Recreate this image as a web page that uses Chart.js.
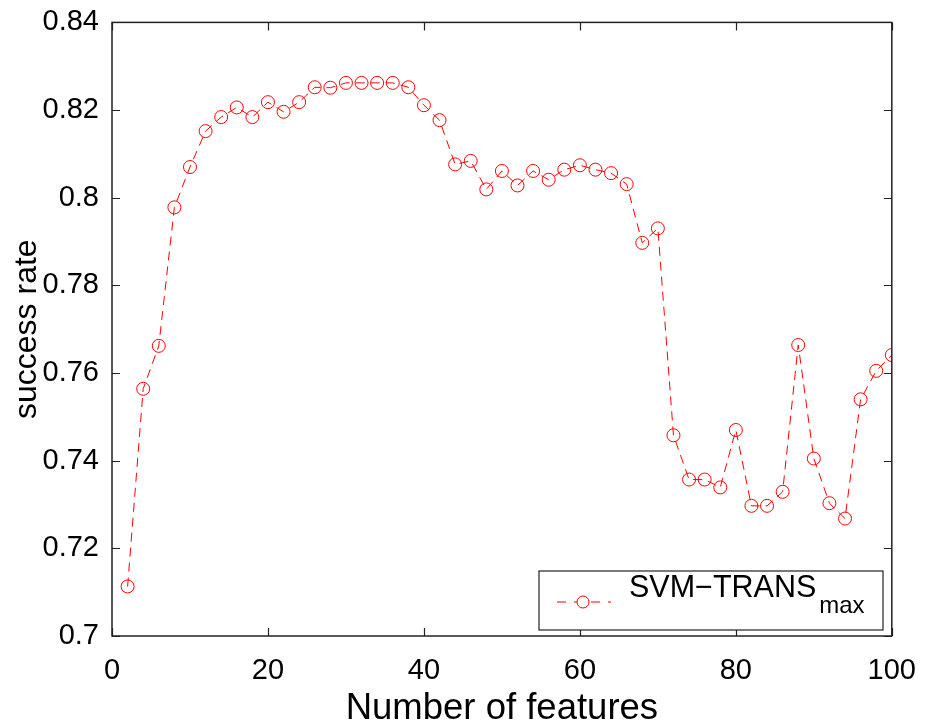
<!DOCTYPE html>
<html>
<head>
<meta charset="utf-8">
<script src="https://cdn.jsdelivr.net/npm/chart.js@4.4.1/dist/chart.umd.min.js"></script>
<style>
  html, body { margin: 0; padding: 0; background: #fff; }
  #wrap { width: 926px; height: 723px; }
</style>
</head>
<body>
<div id="wrap"><canvas id="chart" width="926" height="723"></canvas></div>
<script>
// Number of features (x) and success rate (y)
const features = [2, 4, 6, 8, 10, 12, 14, 16, 18, 20, 22, 24, 26, 28, 30, 32, 34, 36, 38, 40,
  42, 44, 46, 48, 50, 52, 54, 56, 58, 60, 62, 64, 66, 68, 70, 72, 74, 76, 78, 80,
  82, 84, 86, 88, 90, 92, 94, 96, 98, 100];
const successRate = [0.7113, 0.7564, 0.7662, 0.7978, 0.8070, 0.8152, 0.8184, 0.8206, 0.8184, 0.8218,
  0.8196, 0.8218, 0.8252, 0.8251, 0.8262, 0.8262, 0.8262, 0.8262, 0.8252, 0.8211,
  0.8177, 0.8076, 0.8084, 0.8019, 0.8061, 0.8028, 0.8061, 0.8041, 0.8064, 0.8074,
  0.8064, 0.8056, 0.8031, 0.7897, 0.7930, 0.7458, 0.7357, 0.7357, 0.7339, 0.7470,
  0.7297, 0.7297, 0.7329, 0.7664, 0.7405, 0.7303, 0.7268, 0.7540, 0.7605, 0.7641];

// Tick labels
const xTicks = [0, 20, 40, 60, 80, 100];
const yTicks = [0.7, 0.72, 0.74, 0.76, 0.78, 0.8, 0.82, 0.84];

const RED = 'rgb(255, 0, 0)';
const FONT = '"Liberation Sans", Arial, sans-serif';

// Box around the plot, inward tick marks, and the legend
const framePlugin = {
  id: 'frame',
  afterDraw(chart) {
    const ctx = chart.ctx;
    const a = chart.chartArea;
    const xs = chart.scales.x;
    const ys = chart.scales.y;
    const len = 8;

    ctx.save();
    ctx.strokeStyle = '#222';
    ctx.lineWidth = 1.5;
    ctx.strokeRect(a.left, a.top, a.right - a.left, a.bottom - a.top);

    ctx.beginPath();
    xTicks.forEach(v => {
      const px = Math.round(xs.getPixelForValue(v)) + 0.5;
      ctx.moveTo(px, a.bottom); ctx.lineTo(px, a.bottom - len);
      ctx.moveTo(px, a.top); ctx.lineTo(px, a.top + len);
    });
    yTicks.forEach(v => {
      const py = Math.round(ys.getPixelForValue(v)) + 0.5;
      ctx.moveTo(a.left, py); ctx.lineTo(a.left + len, py);
      ctx.moveTo(a.right, py); ctx.lineTo(a.right - len, py);
    });
    ctx.lineWidth = 1.2;
    ctx.stroke();

    // Legend box
    const bx = 539, by = 571, bw = 344, bh = 59;
    ctx.fillStyle = '#fff';
    ctx.fillRect(bx, by, bw, bh);
    ctx.strokeStyle = '#222';
    ctx.lineWidth = 1.2;
    ctx.strokeRect(bx, by, bw, bh);

    // sample line + marker
    const ly = 602;
    ctx.strokeStyle = RED;
    ctx.lineWidth = 1;
    ctx.setLineDash([9, 8]);
    ctx.beginPath();
    ctx.moveTo(557, ly); ctx.lineTo(611, ly);
    ctx.stroke();
    ctx.setLineDash([]);
    ctx.fillStyle = '#fff';
    ctx.beginPath();
    ctx.arc(583, ly, 6, 0, Math.PI * 2);
    ctx.fill();
    ctx.stroke();

    // label with subscript
    ctx.fillStyle = '#000';
    ctx.textBaseline = 'alphabetic';
    ctx.textAlign = 'left';
    ctx.font = '30.5px ' + FONT;
    const main = 'SVM\u2212TRANS';
    ctx.fillText(main, 629, 597);
    const w = ctx.measureText(main).width;
    ctx.font = '24px ' + FONT;
    ctx.fillText('max', 629 + w + 3, 613);
    ctx.restore();
  }
};

new Chart(document.getElementById('chart'), {
  type: 'line',
  data: {
    datasets: [{
      label: 'SVM-TRANS max',
      data: features.map((f, i) => ({ x: f, y: successRate[i] })),
      borderColor: RED,
      borderWidth: 1,
      borderDash: [9, 6],
      pointStyle: 'circle',
      pointRadius: 6.5,
      pointBorderWidth: 1,
      pointBorderColor: RED,
      pointBackgroundColor: 'rgba(0,0,0,0)',
      tension: 0,
      fill: false
    }]
  },
  options: {
    responsive: false,
    animation: false,
    events: [],
    layout: { padding: { top: 22, right: 32, left: 0, bottom: 0 } },
    plugins: {
      legend: { display: false },
      tooltip: { enabled: false }
    },
    scales: {
      x: {
        type: 'linear',
        min: 0,
        max: 100,
        afterBuildTicks: s => { s.ticks = xTicks.map(v => ({ value: v })); },
        afterFit: s => { s.height = 87; },
        grid: { display: false },
        border: { display: false },
        ticks: {
          color: '#000',
          font: { family: FONT, size: 29 },
          padding: 10,
          maxRotation: 0,
          callback: v => String(v)
        },
        title: {
          display: true,
          text: 'Number of features',
          color: '#000',
          font: { family: FONT, size: 36.5 },
          padding: { top: 0, bottom: -8 }
        }
      },
      y: {
        type: 'linear',
        min: 0.7,
        max: 0.84,
        afterBuildTicks: s => { s.ticks = yTicks.map(v => ({ value: v })); },
        afterFit: s => { s.width = 112; },
        grid: { display: false },
        border: { display: false },
        ticks: {
          color: '#000',
          font: { family: FONT, size: 29 },
          padding: 5,
          callback: v => String(+v.toFixed(2))
        },
        title: {
          display: true,
          text: 'success rate',
          color: '#000',
          font: { family: FONT, size: 32 },
          padding: { top: 8, bottom: 0 }
        }
      }
    }
  },
  plugins: [framePlugin]
});
</script>
</body>
</html>
